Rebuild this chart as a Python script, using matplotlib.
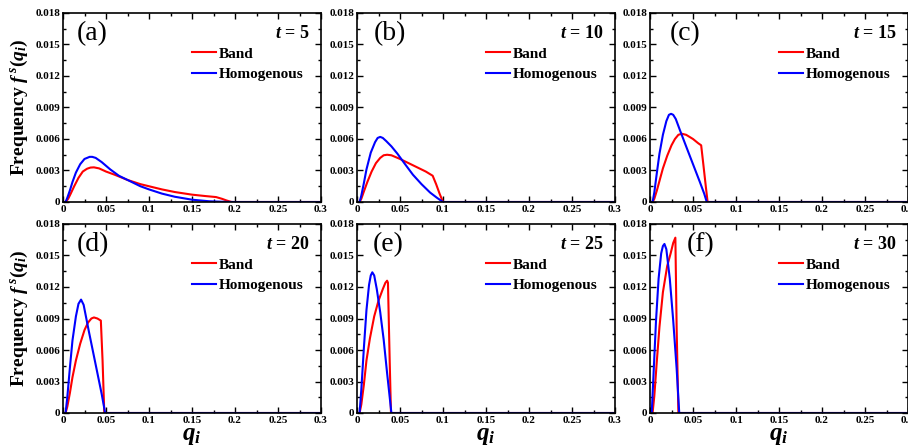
import matplotlib
matplotlib.use("Agg")
import matplotlib.pyplot as plt
from matplotlib.ticker import MultipleLocator, FuncFormatter

plt.rcParams["font.family"] = ["Liberation Serif", "DejaVu Serif"]
plt.rcParams["font.weight"] = "bold"
plt.rcParams["mathtext.fontset"] = "custom"
plt.rcParams["mathtext.rm"] = "Liberation Serif:bold"
plt.rcParams["mathtext.it"] = "Liberation Serif:italic:bold"
plt.rcParams["mathtext.bf"] = "Liberation Serif:bold"

# ---- data ----
panel_labels = ["(a)", "(b)", "(c)", "(d)", "(e)", "(f)"]
times = [5, 10, 15, 20, 25, 30]

band_a_x = [0, 0.003, 0.006, 0.009, 0.013, 0.018, 0.023, 0.028, 0.032, 0.036, 0.042, 0.05, 0.06, 0.075, 0.09, 0.1, 0.115, 0.13, 0.15, 0.165, 0.178, 0.185, 0.19, 0.196, 0.3]
band_a_y = [0, 0, 0.0003, 0.0008, 0.0015, 0.0023, 0.0029, 0.00317, 0.00328, 0.0033, 0.0032, 0.0029, 0.0026, 0.0021, 0.0017, 0.0015, 0.0012, 0.00095, 0.0007, 0.00057, 0.00047, 0.0003, 0.00015, 0, 0]
hom_a_x = [0, 0.003, 0.005, 0.008, 0.011, 0.015, 0.02, 0.025, 0.028, 0.031, 0.034, 0.038, 0.045, 0.055, 0.065, 0.075, 0.09, 0.1, 0.115, 0.13, 0.15, 0.17, 0.19, 0.2, 0.3]
hom_a_y = [0, 0, 0.0004, 0.0011, 0.0019, 0.0028, 0.0036, 0.0041, 0.0042, 0.0043, 0.0043, 0.0042, 0.0038, 0.0031, 0.0025, 0.0021, 0.0015, 0.0012, 0.0008, 0.0005, 0.00022, 0.00007, 0.00001, 0, 0]

band_b_x = [0, 0.003, 0.005, 0.008, 0.012, 0.017, 0.022, 0.027, 0.031, 0.035, 0.04, 0.05, 0.06, 0.07, 0.08, 0.088, 0.092, 0.096, 0.1, 0.3]
band_b_y = [0, 0, 0.0003, 0.0010, 0.0019, 0.0029, 0.0037, 0.0042, 0.00445, 0.0045, 0.00445, 0.0041, 0.0037, 0.0033, 0.0029, 0.0025, 0.0017, 0.0008, 0, 0]
hom_b_x = [0, 0.003, 0.005, 0.008, 0.011, 0.016, 0.021, 0.024, 0.027, 0.030, 0.034, 0.04, 0.047, 0.055, 0.065, 0.075, 0.085, 0.093, 0.1, 0.3]
hom_b_y = [0, 0, 0.0006, 0.0018, 0.0031, 0.0047, 0.0057, 0.0061, 0.0062, 0.0061, 0.0058, 0.0053, 0.0046, 0.0037, 0.0026, 0.0017, 0.0009, 0.0004, 0, 0]

band_c_x = [0, 0.003, 0.005, 0.008, 0.011, 0.015, 0.02, 0.025, 0.029, 0.033, 0.037, 0.042, 0.05, 0.056, 0.0595, 0.062, 0.065, 0.067, 0.3]
band_c_y = [0, 0, 0.0003, 0.0011, 0.002, 0.0032, 0.0044, 0.0054, 0.006, 0.0064, 0.0065, 0.0064, 0.006, 0.0056, 0.0054, 0.0036, 0.0014, 0, 0]
hom_c_x = [0, 0.003, 0.005, 0.008, 0.011, 0.015, 0.019, 0.022, 0.0245, 0.027, 0.03, 0.035, 0.042, 0.05, 0.058, 0.063, 0.066, 0.3]
hom_c_y = [0, 0, 0.0009, 0.0028, 0.0046, 0.0064, 0.0077, 0.0083, 0.0084, 0.0083, 0.0079, 0.0068, 0.0053, 0.0036, 0.0019, 0.0008, 0, 0]

band_d_x = [0, 0.003, 0.005, 0.008, 0.011, 0.015, 0.02, 0.025, 0.029, 0.033, 0.036, 0.04, 0.044, 0.046, 0.048, 0.3]
band_d_y = [0, 0, 0.0006, 0.0019, 0.0034, 0.005, 0.0066, 0.0079, 0.0086, 0.009, 0.0091, 0.009, 0.0088, 0.005, 0, 0]
hom_d_x = [0, 0.003, 0.005, 0.008, 0.011, 0.015, 0.018, 0.021, 0.024, 0.03, 0.035, 0.04, 0.045, 0.049, 0.3]
hom_d_y = [0, 0, 0.0015, 0.0043, 0.0069, 0.0092, 0.0104, 0.0108, 0.0103, 0.0078, 0.0058, 0.0038, 0.0018, 0, 0]

band_e_x = [0, 0.003, 0.005, 0.008, 0.011, 0.015, 0.02, 0.025, 0.03, 0.033, 0.035, 0.036, 0.038, 0.0395, 0.3]
band_e_y = [0, 0, 0.0008, 0.0027, 0.0050, 0.0071, 0.0092, 0.0107, 0.0118, 0.0124, 0.0126, 0.0124, 0.005, 0, 0]
hom_e_x = [0, 0.003, 0.005, 0.008, 0.011, 0.014, 0.016, 0.0178, 0.02, 0.023, 0.027, 0.031, 0.035, 0.04, 0.3]
hom_e_y = [0, 0, 0.0022, 0.0062, 0.0098, 0.0122, 0.0131, 0.0134, 0.0131, 0.0118, 0.0096, 0.007, 0.0038, 0, 0]

band_f_x = [0, 0.003, 0.005, 0.008, 0.011, 0.015, 0.02, 0.024, 0.027, 0.0295, 0.031, 0.033, 0.3]
band_f_y = [0, 0, 0.0016, 0.0050, 0.0082, 0.0115, 0.014, 0.0152, 0.0162, 0.0167, 0.008, 0, 0]
hom_f_x = [0, 0.002, 0.004, 0.007, 0.01, 0.013, 0.015, 0.0168, 0.019, 0.023, 0.027, 0.031, 0.034, 0.3]
hom_f_y = [0, 0, 0.0035, 0.0088, 0.0128, 0.0152, 0.0159, 0.0161, 0.0156, 0.0128, 0.0088, 0.0042, 0, 0]

band = [(band_a_x, band_a_y), (band_b_x, band_b_y), (band_c_x, band_c_y),
        (band_d_x, band_d_y), (band_e_x, band_e_y), (band_f_x, band_f_y)]
hom = [(hom_a_x, hom_a_y), (hom_b_x, hom_b_y), (hom_c_x, hom_c_y),
       (hom_d_x, hom_d_y), (hom_e_x, hom_e_y), (hom_f_x, hom_f_y)]

label_x = [0.055, 0.066, 0.078, 0.055, 0.062, 0.143]

# ---- layout (pixel-measured) ----
W, H = 908, 445
fig = plt.figure(figsize=(W / 100, H / 100), dpi=100)
lefts = [63, 357, 650]
tops = [13, 224]
aw, ah = 258, 189

for i in range(6):
    r, c = divmod(i, 3)
    ax = fig.add_axes([lefts[c] / W, (H - tops[r] - ah) / H, aw / W, ah / H])
    ax.plot(*band[i], color="#ff0000", lw=1.5, label="Band")
    ax.plot(*hom[i], color="#0000ff", lw=1.5, label="Homogenous")
    ax.set_xlim(0, 0.3)
    ax.set_ylim(0, 0.018)
    ax.xaxis.set_major_locator(MultipleLocator(0.05))
    ax.xaxis.set_minor_locator(MultipleLocator(0.025))
    ax.yaxis.set_major_locator(MultipleLocator(0.003))
    ax.yaxis.set_minor_locator(MultipleLocator(0.0015))
    ax.xaxis.set_major_formatter(FuncFormatter(lambda v, p: "0" if abs(v) < 1e-9 else "%g" % round(v, 3)))
    ax.yaxis.set_major_formatter(FuncFormatter(lambda v, p: "0" if abs(v) < 1e-9 else "%.3f" % v))
    ax.tick_params(which="both", direction="in", top=True, right=True, labelsize=8, pad=2, width=1)
    ax.tick_params(which="major", length=4)
    ax.tick_params(which="minor", length=2)
    for sp in ax.spines.values():
        sp.set_linewidth(1.2)

    ax.text(label_x[i], 0.89, panel_labels[i], transform=ax.transAxes,
            fontsize=20, fontweight="normal", ha="left", va="center")
    ax.text(0.955, 0.89, "$t$ = %d" % times[i], transform=ax.transAxes,
            fontsize=13, fontweight="bold", ha="right", va="center")
    ax.legend(loc="upper left", bbox_to_anchor=(0.50, 0.82), frameon=False,
              handlelength=1.6, handletextpad=0.15, borderpad=0,
              borderaxespad=0, labelspacing=0.45, prop={"weight": "bold", "size": 11})

    if c == 0:
        ax.set_ylabel("Frequency $f^{\\,s}(q_i)$", fontsize=14, fontweight="bold", labelpad=4)
    if r == 1:
        ax.set_xlabel("$q_i$", fontsize=18, labelpad=0)

fig.savefig("out.png", dpi=100)
